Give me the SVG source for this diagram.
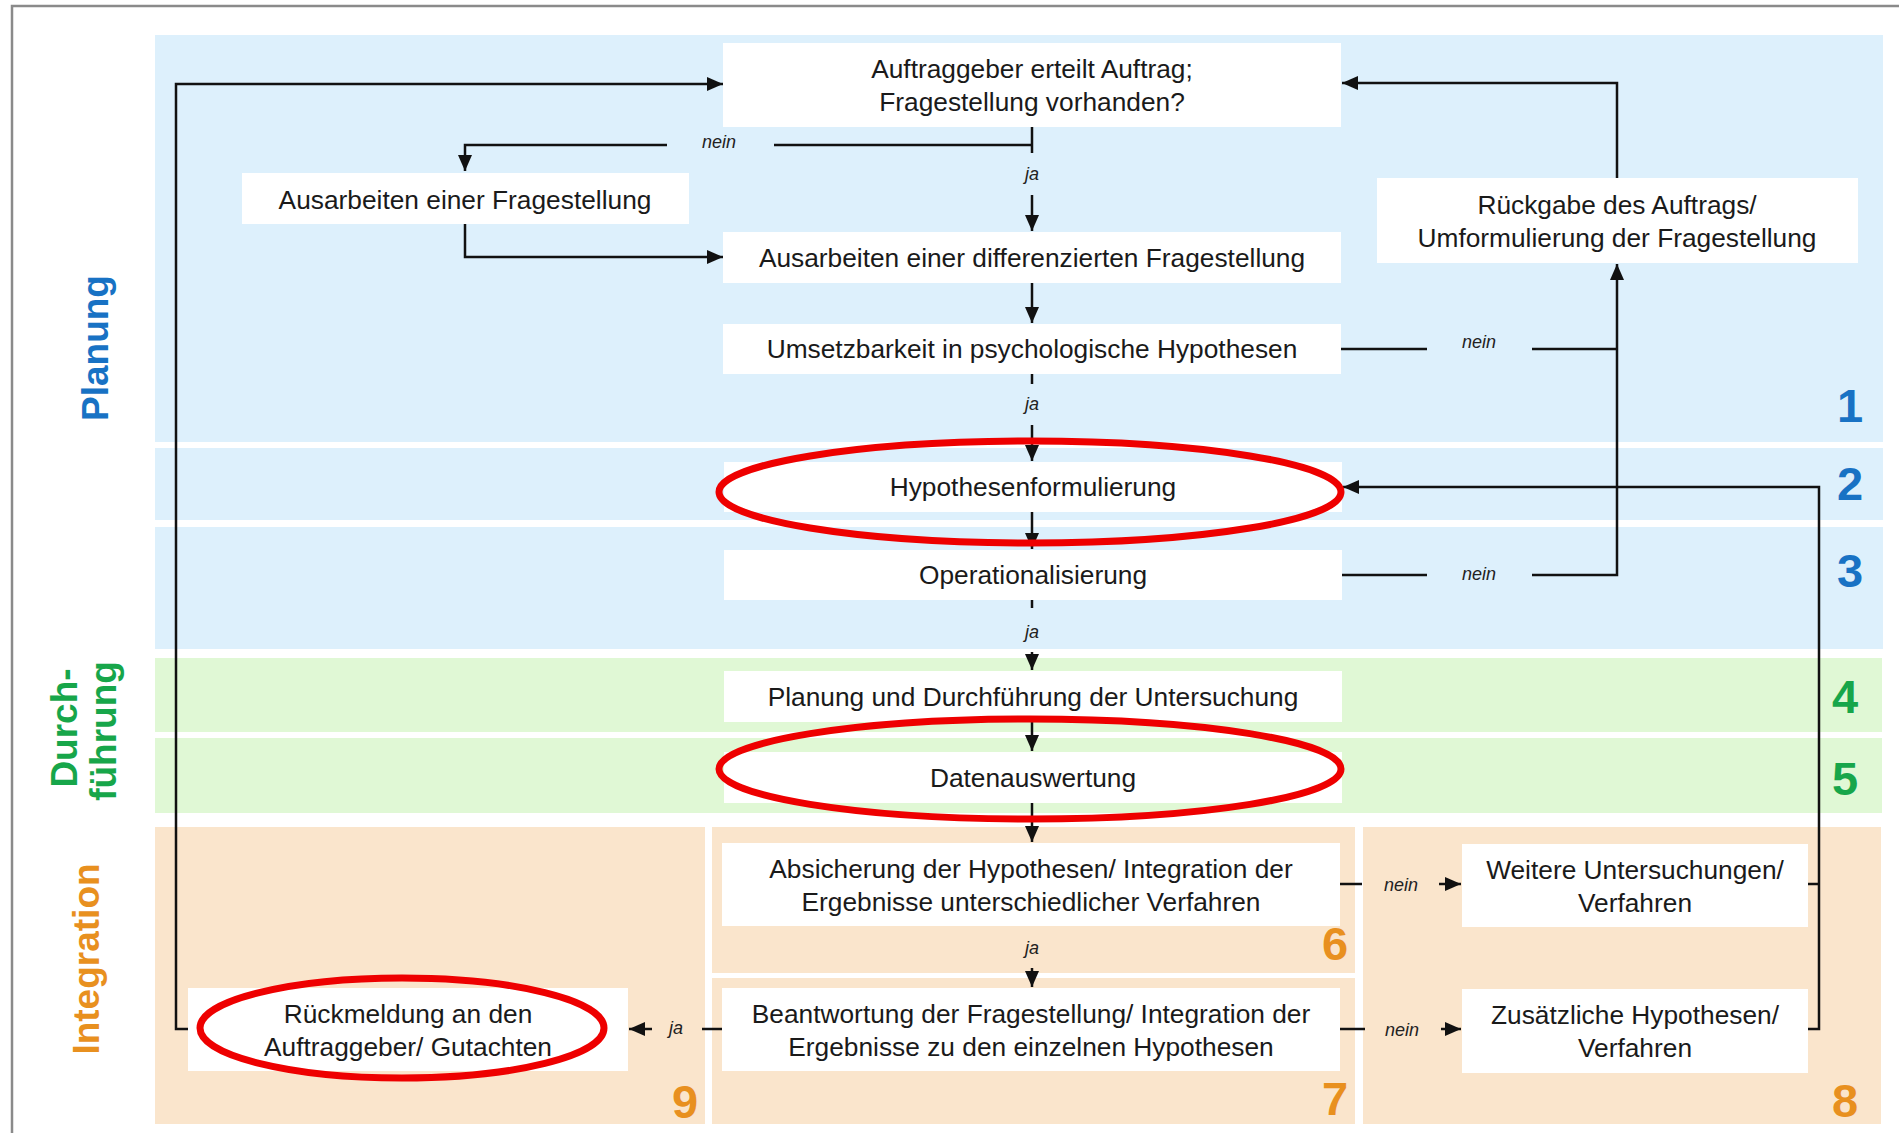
<svg xmlns="http://www.w3.org/2000/svg" width="1899" height="1133" viewBox="0 0 1899 1133">
<style>
.bg{fill:#ffffff}
.pb{fill:#DDF0FC}
.pg{fill:#E0F8D5}
.po{fill:#FAE5CC}
.box{fill:#ffffff}
.t{font-family:"Liberation Sans",Arial,sans-serif;font-size:26.3px;fill:#1a1a1a;text-anchor:middle}
.lbl{font-family:"Liberation Sans",Arial,sans-serif;font-size:18px;font-style:italic;fill:#222;text-anchor:middle}
.side{font-family:"Liberation Sans",Arial,sans-serif;font-size:37px;font-weight:bold;text-anchor:middle}
.num{font-family:"Liberation Sans",Arial,sans-serif;font-size:47px;font-weight:bold;text-anchor:middle}
.blue{fill:#1872C4}
.green{fill:#17A64A}
.orange{fill:#E8901F}
.c{fill:none;stroke:#111;stroke-width:2.5}
.ell{fill:none;stroke:#EE0000;stroke-width:7}
</style>
<defs>
<marker id="ah" markerUnits="userSpaceOnUse" markerWidth="16" markerHeight="14" refX="16" refY="7" orient="auto">
<path d="M0,0 L16,7 L0,14 z" fill="#111"/>
</marker>
</defs>
<rect class="bg" x="0" y="0" width="1899" height="1133"/>
<path d="M12,1133 V6 H1899" fill="none" stroke="#8a8a8a" stroke-width="2.5"/>

<g id="panels">
<rect class="pb" x="155" y="35" width="1728" height="407"/>
<rect class="pb" x="155" y="448" width="1728" height="72"/>
<rect class="pb" x="155" y="527" width="1728" height="122"/>
<rect class="pg" x="155" y="658" width="1727" height="74"/>
<rect class="pg" x="155" y="738" width="1727" height="75"/>
<rect class="po" x="155" y="827" width="550" height="297"/>
<rect class="po" x="712" y="827" width="643" height="146"/>
<rect class="po" x="712" y="978" width="643" height="146"/>
<rect class="po" x="1363" y="827" width="518" height="297"/>
</g>

<g id="side-labels">
<text class="side blue" transform="translate(108,348) rotate(-90)">Planung</text>
<text class="side green" transform="translate(77,728) rotate(-90)">Durch-</text>
<text class="side green" transform="translate(116,731) rotate(-90)">führung</text>
<text class="side orange" transform="translate(99,959) rotate(-90)">Integration</text>
</g>

<g id="numbers">
<text class="num blue" x="1850" y="422">1</text>
<text class="num blue" x="1850" y="500">2</text>
<text class="num blue" x="1850" y="587">3</text>
<text class="num green" x="1845" y="713">4</text>
<text class="num green" x="1845" y="795">5</text>
<text class="num orange" x="1335" y="960">6</text>
<text class="num orange" x="1335" y="1115">7</text>
<text class="num orange" x="1845" y="1117">8</text>
<text class="num orange" x="685" y="1118">9</text>
</g>

<g id="connectors">
<path class="c" d="M188,1029 H176 V84 H723" marker-end="url(#ah)"/>
<path class="c" d="M1032,127 V153"/>
<path class="c" d="M1032,145 H774"/>
<path class="c" d="M667,145 H465 V171" marker-end="url(#ah)"/>
<path class="c" d="M1032,195 V231" marker-end="url(#ah)"/>
<path class="c" d="M465,224 V257 H723" marker-end="url(#ah)"/>
<path class="c" d="M1032,283 V323" marker-end="url(#ah)"/>
<path class="c" d="M1032,374 V384"/>
<path class="c" d="M1032,425 V461" marker-end="url(#ah)"/>
<path class="c" d="M1341,349 H1427"/>
<path class="c" d="M1532,349 H1617"/>
<path class="c" d="M1342,575 H1427"/>
<path class="c" d="M1532,575 H1617 V264" marker-end="url(#ah)"/>
<path class="c" d="M1617,178 V83 H1342" marker-end="url(#ah)"/>
<path class="c" d="M1032,512 V549" marker-end="url(#ah)"/>
<path class="c" d="M1032,600 V608"/>
<path class="c" d="M1032,652 V670" marker-end="url(#ah)"/>
<path class="c" d="M1032,722 V751" marker-end="url(#ah)"/>
<path class="c" d="M1032,803 V842" marker-end="url(#ah)"/>
<path class="c" d="M1032,968 V987" marker-end="url(#ah)"/>
<path class="c" d="M1340,884 H1362"/>
<path class="c" d="M1439,884 H1461" marker-end="url(#ah)"/>
<path class="c" d="M1340,1029 H1365"/>
<path class="c" d="M1441,1029 H1461" marker-end="url(#ah)"/>
<path class="c" d="M722,1029 H702"/>
<path class="c" d="M652,1029 H629" marker-end="url(#ah)"/>
<path class="c" d="M1808,884 H1819"/>
<path class="c" d="M1808,1029 H1819 V487 H1343" marker-end="url(#ah)"/>
<text class="lbl" x="719" y="148">nein</text>
<text class="lbl" x="1032" y="180">ja</text>
<text class="lbl" x="1479" y="348">nein</text>
<text class="lbl" x="1032" y="410">ja</text>
<text class="lbl" x="1479" y="580">nein</text>
<text class="lbl" x="1032" y="638">ja</text>
<text class="lbl" x="1032" y="954">ja</text>
<text class="lbl" x="1401" y="891">nein</text>
<text class="lbl" x="1402" y="1036">nein</text>
<text class="lbl" x="676" y="1034">ja</text>
</g>

<g id="n-auftrag">
<rect class="box" x="723" y="43" width="618" height="84"/>
<text class="t" x="1032" y="78">Auftraggeber erteilt Auftrag;</text>
<text class="t" x="1032" y="111">Fragestellung vorhanden?</text>
</g>
<g id="n-ausarbeiten">
<rect class="box" x="242" y="173" width="447" height="51"/>
<text class="t" x="465" y="209">Ausarbeiten einer Fragestellung</text>
</g>
<g id="n-differenziert">
<rect class="box" x="723" y="232" width="618" height="51"/>
<text class="t" x="1032" y="267">Ausarbeiten einer differenzierten Fragestellung</text>
</g>
<g id="n-umsetzbarkeit">
<rect class="box" x="723" y="324" width="618" height="50"/>
<text class="t" x="1032" y="358">Umsetzbarkeit in psychologische Hypothesen</text>
</g>
<g id="n-rueckgabe">
<rect class="box" x="1377" y="178" width="481" height="85"/>
<text class="t" x="1617" y="214">Rückgabe des Auftrags/</text>
<text class="t" x="1617" y="247">Umformulierung der Fragestellung</text>
</g>
<g id="n-hypothesen">
<rect class="box" x="724" y="462" width="618" height="50"/>
<text class="t" x="1033" y="496">Hypothesenformulierung</text>
</g>
<g id="n-operationalisierung">
<rect class="box" x="724" y="550" width="618" height="50"/>
<text class="t" x="1033" y="584">Operationalisierung</text>
</g>
<g id="n-planung">
<rect class="box" x="724" y="671" width="618" height="51"/>
<text class="t" x="1033" y="706">Planung und Durchführung der Untersuchung</text>
</g>
<g id="n-daten">
<rect class="box" x="724" y="752" width="618" height="51"/>
<text class="t" x="1033" y="787">Datenauswertung</text>
</g>
<g id="n-absicherung">
<rect class="box" x="722" y="843" width="618" height="83"/>
<text class="t" x="1031" y="878">Absicherung der Hypothesen/ Integration der</text>
<text class="t" x="1031" y="911">Ergebnisse unterschiedlicher Verfahren</text>
</g>
<g id="n-weitere">
<rect class="box" x="1462" y="844" width="346" height="83"/>
<text class="t" x="1635" y="879">Weitere Untersuchungen/</text>
<text class="t" x="1635" y="912">Verfahren</text>
</g>
<g id="n-beantwortung">
<rect class="box" x="722" y="988" width="618" height="83"/>
<text class="t" x="1031" y="1023">Beantwortung der Fragestellung/ Integration der</text>
<text class="t" x="1031" y="1056">Ergebnisse zu den einzelnen Hypothesen</text>
</g>
<g id="n-zusaetzlich">
<rect class="box" x="1462" y="989" width="346" height="84"/>
<text class="t" x="1635" y="1024">Zusätzliche Hypothesen/</text>
<text class="t" x="1635" y="1057">Verfahren</text>
</g>
<g id="n-rueckmeldung">
<rect class="box" x="188" y="988" width="440" height="83"/>
<text class="t" x="408" y="1023">Rückmeldung an den</text>
<text class="t" x="408" y="1056">Auftraggeber/ Gutachten</text>
</g>

<g id="highlights">
<ellipse class="ell" cx="1030" cy="492" rx="311" ry="51"/>
<ellipse class="ell" cx="1030" cy="769" rx="311" ry="50"/>
<ellipse class="ell" cx="402" cy="1028" rx="202" ry="50"/>
</g>
</svg>
